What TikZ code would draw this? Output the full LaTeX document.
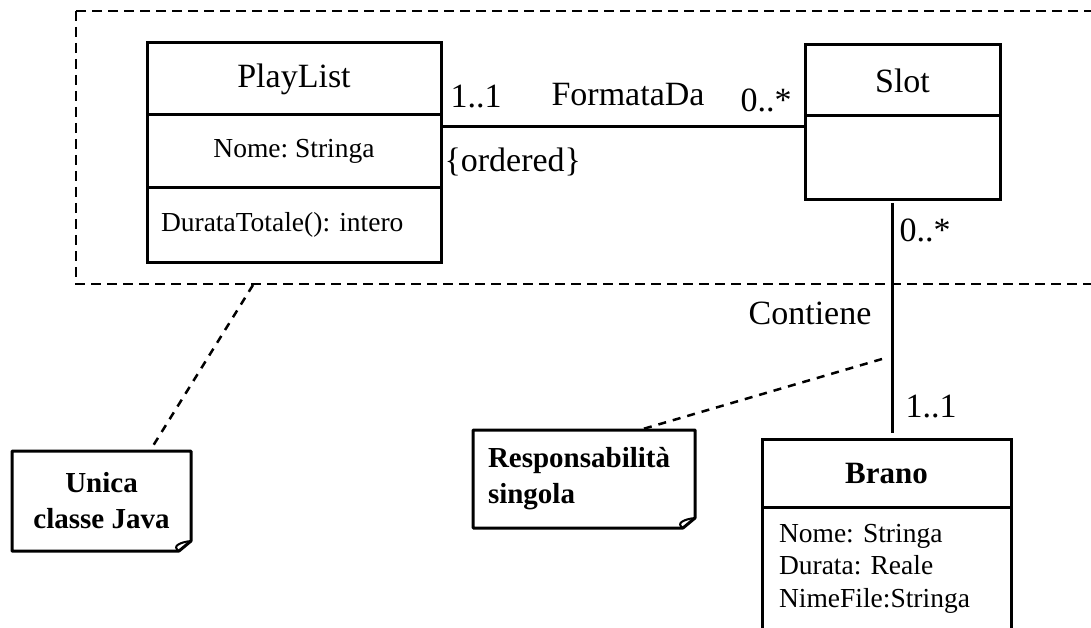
\documentclass[tikz,border=0pt]{standalone}
\usepackage{fontspec}
\setmainfont{Liberation Serif}
\usetikzlibrary{positioning,calc}
\frenchspacing

\begin{document}
\begin{tikzpicture}[x=1pt, y=-1pt,
  labelbig/.style={font=\fontsize{34}{40}\selectfont},
  labelsmall/.style={font=\fontsize{27.5}{32.5}\selectfont},
  notetext/.style={font=\fontsize{29}{36}\selectfont\bfseries, outer sep=0pt},
  compart/.style={draw, line width=3pt, inner sep=0pt, outer sep=0pt},
  assoc/.style={line width=3pt},
  pkgframe/.style={line width=1.5pt, dash pattern=on 10pt off 6pt},
  anchorline/.style={line width=2.5pt, dash pattern=on 8pt off 7pt},
  notebox/.style={line width=3pt, line join=round}]
\useasboundingbox (0,0) rectangle (1091,628);
\clip (0,0) rectangle (1091,628);
% Package frame
\draw[pkgframe] (76,11) rectangle (1120,284);
% PlayList
\node[compart, minimum width=294pt, minimum height=72pt, labelbig] (plName) at (294,79) {PlayList};
\node[compart, minimum width=294pt, minimum height=73pt, labelsmall, below=0pt of plName] (plAttr) {Nome: Stringa};
\node[compart, minimum width=294pt, minimum height=74pt, labelsmall, text width=266pt, inner xsep=14pt, align=left,
  below=0pt of plAttr] (plOps) {DurataTotale(): intero};
% Slot
\node[compart, minimum width=195pt, minimum height=71pt, labelbig] (slName) at (902.5,80.5) {Slot};
\node[compart, minimum width=195pt, minimum height=84pt, below=0pt of slName] (slBody) {};
% Brano
\node[compart, minimum width=249pt, minimum height=68pt, labelbig, font=\fontsize{31}{36}\selectfont\bfseries] (brName) at (886.5,473) {Brano};
\node[compart, minimum width=249pt, minimum height=123pt, labelsmall, text width=215pt, inner xsep=17pt, align=left,
  below=0pt of brName] (brAttr) {Nome: Stringa\\Durata: Reale\\NimeFile:Stringa};
% Notes
\node[notetext, minimum width=179pt, minimum height=100pt, align=center] (nUnica) at (101.5,501) {Unica\\classe Java};
\node[notetext, minimum width=222pt, minimum height=98pt, text width=192pt, inner xsep=15pt, align=left] (nResp) at (584,479) {Responsabilità\\singola};
\foreach \n in {nUnica,nResp}{
  \draw[notebox] (\n.north west) -- (\n.north east) -- ([yshift=10pt]\n.south east)
    -- ([xshift=-12pt]\n.south east) -- (\n.south west) -- cycle;
  \draw[line width=2pt] ([xshift=-12pt]\n.south east) .. controls ([xshift=-20pt,yshift=5pt]\n.south east)
    and ([xshift=-10pt,yshift=9pt]\n.south east) .. ([yshift=10pt]\n.south east);
}
% FormataDa
\coordinate (fdRow) at (0,127);
\draw[assoc] (plAttr.east |- fdRow) -- (slBody.west |- fdRow);
\node[labelbig] (fdMulA) at (476,97) {1..1};
\node[labelbig] (fdName) at (628,95) {FormataDa};
\node[labelbig] (fdMulB) at (766,100) {0..*};
\node[labelbig, anchor=west] (fdOrd) at (441,162) {\{ordered\}};
% Contiene
\coordinate (ctCol) at (892,0);
\draw[assoc] ($(slBody.south -| ctCol)+(0,3)$) -- ($(brName.north -| ctCol)+(0,-6)$);
\node[labelbig] (ctMulA) at (925,230) {0..*};
\node[labelbig] (ctName) at (810,313) {Contiene};
\node[labelbig] (ctMulB) at (931,407) {1..1};
% Note anchors
\coordinate (cFrame) at (253,285);
\coordinate (cAssoc) at (882,359);
\draw[anchorline] (cFrame) -- ($(nUnica.north west)!0.77!(nUnica.north east)$);
\draw[anchorline] (cAssoc) -- ($(nResp.north west)!0.75!(nResp.north east)$);
\end{tikzpicture}
\end{document}
